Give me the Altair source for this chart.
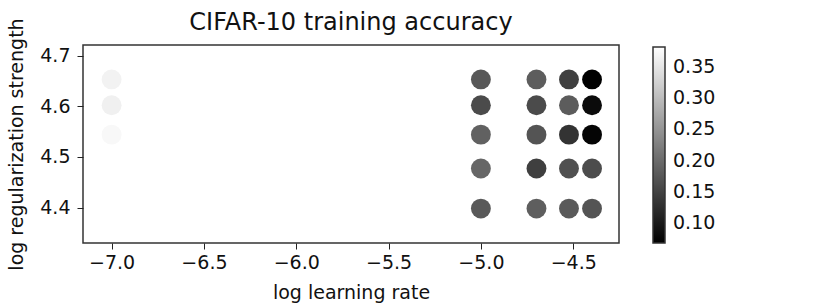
import altair as alt
import pandas as pd

# log10 learning rate of each run
log_lr = [-7.0, -7.0, -7.0, -7.0, -7.0,
          -5.0, -5.0, -5.0, -5.0, -5.0,
          -4.699, -4.699, -4.699, -4.699, -4.699,
          -4.523, -4.523, -4.523, -4.523, -4.523,
          -4.398, -4.398, -4.398, -4.398, -4.398]
# log10 regularization strength of each run
log_reg = [4.653, 4.602, 4.544, 4.477, 4.398,
           4.653, 4.602, 4.544, 4.477, 4.398,
           4.653, 4.602, 4.544, 4.477, 4.398,
           4.653, 4.602, 4.544, 4.477, 4.398,
           4.653, 4.602, 4.544, 4.477, 4.398]
# training accuracy of each run
train_acc = [0.366, 0.363, 0.373, 0.382, 0.382,
             0.176, 0.160, 0.188, 0.194, 0.177,
             0.182, 0.160, 0.172, 0.146, 0.184,
             0.147, 0.181, 0.131, 0.166, 0.179,
             0.068, 0.081, 0.074, 0.162, 0.172]

x_ticks = [-7.0, -6.5, -6.0, -5.5, -5.0, -4.5]
y_ticks = [4.4, 4.5, 4.6, 4.7]
cbar_ticks = [0.10, 0.15, 0.20, 0.25, 0.30, 0.35]

df = pd.DataFrame({"lr": log_lr, "reg": log_reg, "acc": train_acc})

FONT = "DejaVu Sans"

chart = alt.Chart(df).mark_circle(size=395, opacity=1).encode(
    x=alt.X("lr:Q", title="log learning rate",
            scale=alt.Scale(domain=[-7.155, -4.252], nice=False, zero=False),
            axis=alt.Axis(values=x_ticks, format=".1f", grid=False, domain=False,
                          tickSize=6, tickColor="#222", labelFontSize=19,
                          labelFont=FONT, labelColor="#111", titleFont=FONT,
                          titleFontSize=19, titleFontWeight="normal",
                          titleColor="#111", labelPadding=4, titlePadding=11)),
    y=alt.Y("reg:Q", title="log regularization strength",
            scale=alt.Scale(domain=[4.33, 4.721], nice=False, zero=False),
            axis=alt.Axis(values=y_ticks, format=".1f", grid=False, domain=False,
                          tickSize=6, tickColor="#222", labelFontSize=19,
                          labelFont=FONT, labelColor="#111", titleFont=FONT,
                          titleFontSize=19, titleFontWeight="normal",
                          titleColor="#111", labelPadding=7, titlePadding=13)),
    color=alt.Color("acc:Q",
                    scale=alt.Scale(domain=[0.068, 0.382], range=["black", "white"],
                                    interpolate="rgb", nice=False, zero=False),
                    legend=alt.Legend(orient="none", legendX=570, legendY=2,
                                      title=None, values=cbar_ticks, format=".2f",
                                      gradientLength=196, gradientThickness=12,
                                      gradientStrokeColor="#333",
                                      gradientStrokeWidth=1.5,
                                      labelFontSize=19, labelFont=FONT,
                                      labelColor="#111", labelOffset=8,
                                      direction="vertical")),
).properties(
    width=536, height=198,
    background="white",
    title=alt.Title("CIFAR-10 training accuracy", font=FONT, fontSize=24,
                    fontWeight="normal", color="#111", offset=-17),
    padding={"left": 83, "top": 45, "right": 195, "bottom": 61},
    autosize=alt.AutoSizeParams(type="none"),
).configure_view(
    stroke="#333", strokeWidth=1.5
)

chart.save("out.html", embed_options={"renderer": "svg", "actions": False})
